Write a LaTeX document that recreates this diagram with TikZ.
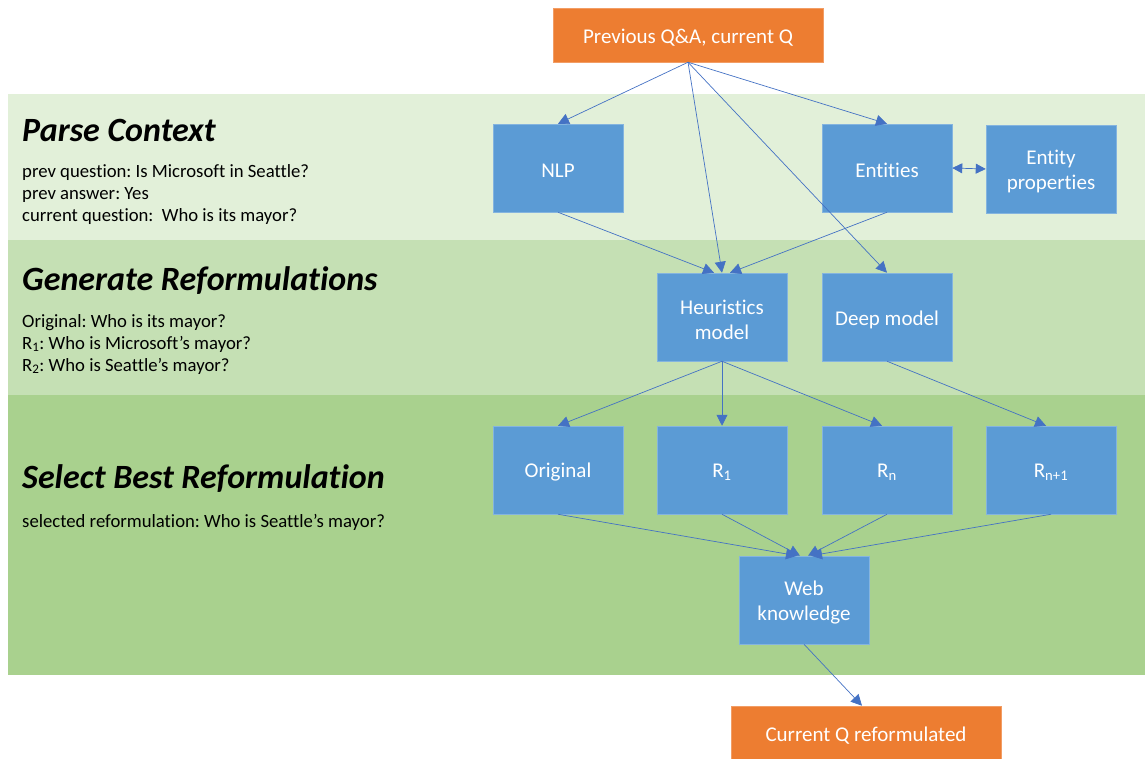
\documentclass[tikz,border=0pt]{standalone}
\usepackage{fontspec}
\setmainfont{Carlito}[Ligatures=NoCommon]
\usetikzlibrary{arrows.meta,calc}
\definecolor{bandA}{HTML}{E2F0D9}
\definecolor{bandB}{HTML}{C5E0B4}
\definecolor{bandC}{HTML}{A9D18E}
\definecolor{boxblue}{HTML}{5B9BD5}
\definecolor{boxorange}{HTML}{ED7D31}
\definecolor{linkblue}{HTML}{4472C4}
\frenchspacing
\begin{document}
\begin{tikzpicture}[x=1pt,y=-1pt,
  blk/.style={draw=boxblue!75!white, line width=0.5pt, fill=boxblue,
    minimum width=130pt, minimum height=88pt, inner sep=0pt},
  io/.style={draw=boxorange!75!white, line width=0.5pt, fill=boxorange,
    minimum width=270pt, minimum height=54pt, inner sep=0pt},
  lbl/.style={text=white, align=center, inner sep=0pt, yshift=-2.5pt,
    font=\fontsize{21}{25}\selectfont},
  tip/.style={Triangle[length=11pt,width=11pt]},
  link/.style={draw=linkblue, line width=0.7pt, -{Triangle[length=11pt,width=11pt]}},
  ttl/.style={anchor=base west, inner sep=0pt, font=\fontsize{34}{36}\selectfont\bfseries\itshape},
  txt/.style={anchor=base west, inner sep=0pt, font=\fontsize{18.7}{22}\selectfont}]
\useasboundingbox (0,0) rectangle (1145,759);
\clip (0,0) rectangle (1145,759);

% stage bands
\fill[bandA] (8,94) rectangle (1145,240);
\fill[bandB] (8,240) rectangle (1145,395);
\fill[bandC] (8,395) rectangle (1145,675);

% stage captions
\node[ttl] (t1) at (22,142) {Parse Context};
\node[txt] (t1a) at (22,178) {prev question: Is Microsoft in Seattle?};
\node[txt] (t1b) at (22,200) {prev answer: Yes};
\node[txt] (t1c) at (22,222) {current question:\ \ Who is its mayor?};

\node[ttl] (t2) at (22,290) {Generate Reformulations};
\node[txt] (t2a) at (22,327) {Original: Who is its mayor?};
\node[txt] (t2b) at (22,349) {R\textsubscript{1}: Who is Microsoft’s mayor?};
\node[txt] (t2c) at (22,371) {R\textsubscript{2}: Who is Seattle’s mayor?};

\node[ttl] (t3) at (22,488) {Select Best Reformulation};
\node[txt] (t3a) at (22,527) {selected reformulation: Who is Seattle’s mayor?};

% pipeline boxes
\node[io,  label={[lbl]center:Previous Q\&A, current Q}] (top) at (688,35) {};
\node[blk, label={[lbl]center:NLP}] (nlp) at (558,168) {};
\node[blk, label={[lbl]center:Entities}] (ent) at (887,168) {};
\node[blk, label={[lbl]center:Entity\\properties}] (prop) at (1051,169) {};
\node[blk, label={[lbl]center:Heuristics\\model}] (heur) at (722,317) {};
\node[blk, label={[lbl]center:Deep model}] (deep) at (887,317) {};
\node[blk, label={[lbl]center:Original}] (orig) at (558,470) {};
\node[blk, label={[lbl]center:R\textsubscript{1}}] (r1) at (722,470) {};
\node[blk, label={[lbl]center:R\textsubscript{n}}] (rn) at (887,470) {};
\node[blk, label={[lbl]center:R\textsubscript{n+1}}] (rn1) at (1051,470) {};
\node[blk, label={[lbl]center:Web\\knowledge}] (web) at (804,600) {};
\node[io,  label={[lbl]center:Current Q reformulated}] (out) at (866,733) {};

% connectors
\draw[link] (top.south) -- (nlp.north);
\draw[link] (top.south) -- (ent.north);
\draw[link] (top.south) -- (heur.north);
\draw[link] (top.south) -- (deep.north);
\draw[link] (nlp.south) -- ($(heur.north)+(-8,0)$);
\draw[link] (ent.south) -- ($(heur.north)+(8,0)$);
\draw[draw=linkblue, line width=0.7pt, {Triangle[length=10pt,width=10pt]}-{Triangle[length=10pt,width=10pt]}] (ent.east) -- (prop.west);
\draw[link] (heur.south) -- (orig.north);
\draw[link] (heur.south) -- (r1.north);
\draw[link] (heur.south) -- ($(rn.north)+(-5,0)$);
\draw[link] (deep.south) -- ($(rn1.north)+(-5,0)$);
\draw[link] (orig.south) -- ($(web.north)+(-7,0)$);
\draw[link] (r1.south) -- ($(web.north)+(-4,0)$);
\draw[link] (rn.south) -- ($(web.north)+(4,0)$);
\draw[link] (rn1.south) -- ($(web.north)+(7,0)$);
\draw[link] (web.south) -- ($(out.north)+(-4,0)$);
\end{tikzpicture}
\end{document}
